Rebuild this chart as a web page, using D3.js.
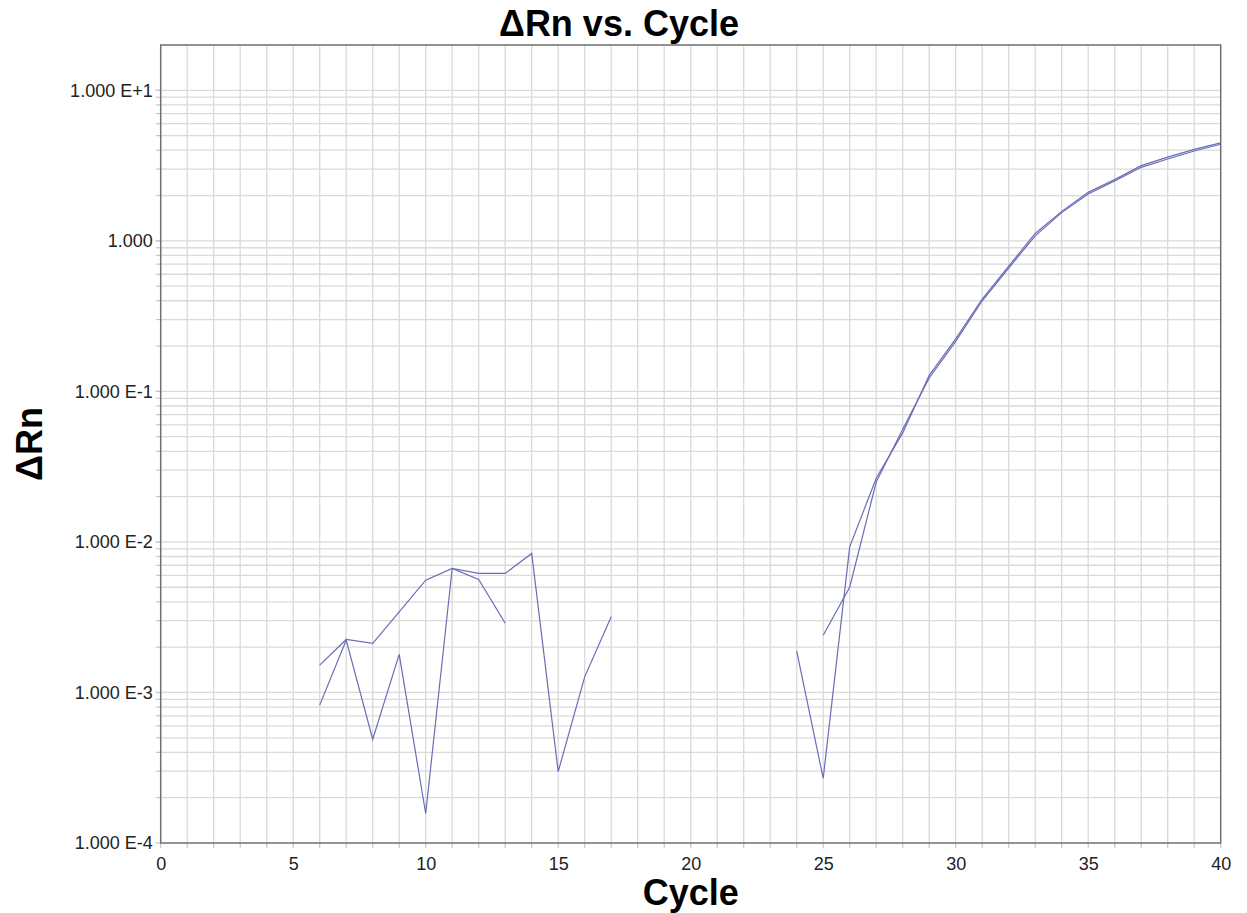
<!DOCTYPE html>
<html>
<head>
<meta charset="utf-8">
<script src="https://cdn.jsdelivr.net/npm/d3@7"></script>
<style>
  body { margin: 0; background: #fff; }
  svg text { font-family: "Liberation Sans", Arial, sans-serif; }
</style>
</head>
<body>
<div id="chart"></div>
<script>
// cycles 0..40, null where the value is not positive (not drawn on log axis)
var cycles = d3.range(0, 41);

var wellA = [null,null,null,null,null,null,
  1.52e-3, 2.25e-3, 2.12e-3, 3.43e-3, 5.57e-3, 6.67e-3, 5.64e-3, 2.88e-3,
  null,null,null,null,null,null,null,null,null,null,null,
  2.40e-3, 5.0e-3, 2.5e-2, 5.6e-2, 0.123, 0.215, 0.40, 0.66, 1.08, 1.54, 2.05, 2.50, 3.08, 3.50, 3.95, 4.38];

var wellB = [null,null,null,null,null,null,
  8.24e-4, 2.23e-3, 4.89e-4, 1.79e-3, 1.57e-4, 6.67e-3, 6.18e-3, 6.18e-3, 8.39e-3, 2.98e-4, 1.27e-3, 3.18e-3,
  null,null,null,null,null,null,
  1.88e-3, 2.69e-4, 9.27e-3, 2.65e-2, 5.3e-2, 0.128, 0.223, 0.41, 0.68, 1.12, 1.57, 2.10, 2.55, 3.16, 3.60, 4.05, 4.48];

var xTicks = [0, 5, 10, 15, 20, 25, 30, 35, 40];
var yTicks = [1e-4, 1e-3, 1e-2, 1e-1, 1, 10];
var yTickLabels = ["1.000 E-4", "1.000 E-3", "1.000 E-2", "1.000 E-1", "1.000", "1.000 E+1"];

var W = 1247, H = 913;
var margin = {top: 45, right: 26.3, bottom: 70, left: 160.7};
var width = W - margin.left - margin.right,
    height = H - margin.top - margin.bottom;

var svg = d3.select("#chart")
  .append("svg")
    .attr("width", W)
    .attr("height", H);

var g = svg.append("g")
    .attr("transform", "translate(" + margin.left + "," + margin.top + ")");

var x = d3.scaleLinear()
  .domain([0, 40])
  .range([0, width]);

var y = d3.scaleLog()
  .domain([1e-4, 20])
  .range([height, 0]);

// minor grid values on the log axis
var yGrid = [];
for (var k = -4; k <= 1; k++) {
  for (var m = 1; m <= 9; m++) {
    var v = m * Math.pow(10, k);
    if (v > 1e-4 && v < 20) yGrid.push(v);
  }
}

// vertical grid
g.append("g")
  .selectAll("line")
  .data(d3.range(1, 40))
  .enter()
  .append("line")
    .attr("x1", function(d) { return x(d); })
    .attr("x2", function(d) { return x(d); })
    .attr("y1", 0)
    .attr("y2", height)
    .style("stroke", "#dadada")
    .style("stroke-width", 1.3);

// horizontal grid
g.append("g")
  .selectAll("line")
  .data(yGrid)
  .enter()
  .append("line")
    .attr("x1", 0)
    .attr("x2", width)
    .attr("y1", function(d) { return y(d); })
    .attr("y2", function(d) { return y(d); })
    .style("stroke", "#dadada")
    .style("stroke-width", 1.3);

// small ticks outside the frame
g.append("g")
  .selectAll("line")
  .data(d3.range(0, 41))
  .enter()
  .append("line")
    .attr("x1", function(d) { return x(d); })
    .attr("x2", function(d) { return x(d); })
    .attr("y1", height)
    .attr("y2", height + 5)
    .style("stroke", "#c8c8c8")
    .style("stroke-width", 1.2);

g.append("g")
  .selectAll("line")
  .data(yGrid.concat(yTicks))
  .enter()
  .append("line")
    .attr("x1", -5)
    .attr("x2", 0)
    .attr("y1", function(d) { return y(d); })
    .attr("y2", function(d) { return y(d); })
    .style("stroke", "#c8c8c8")
    .style("stroke-width", 1.2);

// frame
g.append("rect")
  .attr("x", 0)
  .attr("y", 0)
  .attr("width", width)
  .attr("height", height)
  .style("fill", "none")
  .style("stroke", "#707070")
  .style("stroke-width", 1.5);

// x axis labels
var xAxis = g.append("g")
  .attr("transform", "translate(0," + height + ")")
  .call(d3.axisBottom(x).tickValues(xTicks).tickSize(0).tickPadding(14));
xAxis.select(".domain").remove();
xAxis.selectAll("text")
  .style("font-size", "18px")
  .style("fill", "#222");

// y axis labels
var yAxis = g.append("g")
  .call(d3.axisLeft(y).tickValues(yTicks).tickSize(0).tickPadding(8)
    .tickFormat(function(d, i) { return yTickLabels[i]; }));
yAxis.select(".domain").remove();
yAxis.selectAll("text")
  .style("font-size", "18px")
  .style("fill", "#222");

// curves
var line = d3.line()
  .defined(function(d) { return d != null; })
  .x(function(d, i) { return x(cycles[i]); })
  .y(function(d) { return y(d); });

[wellA, wellB].forEach(function(s) {
  g.append("path")
    .datum(s)
    .attr("d", line)
    .style("fill", "none")
    .style("stroke", "#6a6db4")
    .style("stroke-width", 1.2);
});

// title
svg.append("text")
  .attr("x", 619)
  .attr("y", 36)
  .attr("text-anchor", "middle")
  .style("font-size", "36px")
  .style("font-weight", "bold")
  .text("ΔRn vs. Cycle");

// x label
svg.append("text")
  .attr("x", margin.left + width / 2)
  .attr("y", 905)
  .attr("text-anchor", "middle")
  .style("font-size", "36px")
  .style("font-weight", "bold")
  .text("Cycle");

// y label
svg.append("text")
  .attr("transform", "translate(42," + (margin.top + height / 2) + ") rotate(-90)")
  .attr("text-anchor", "middle")
  .style("font-size", "36px")
  .style("font-weight", "bold")
  .text("ΔRn");
</script>
</body>
</html>
